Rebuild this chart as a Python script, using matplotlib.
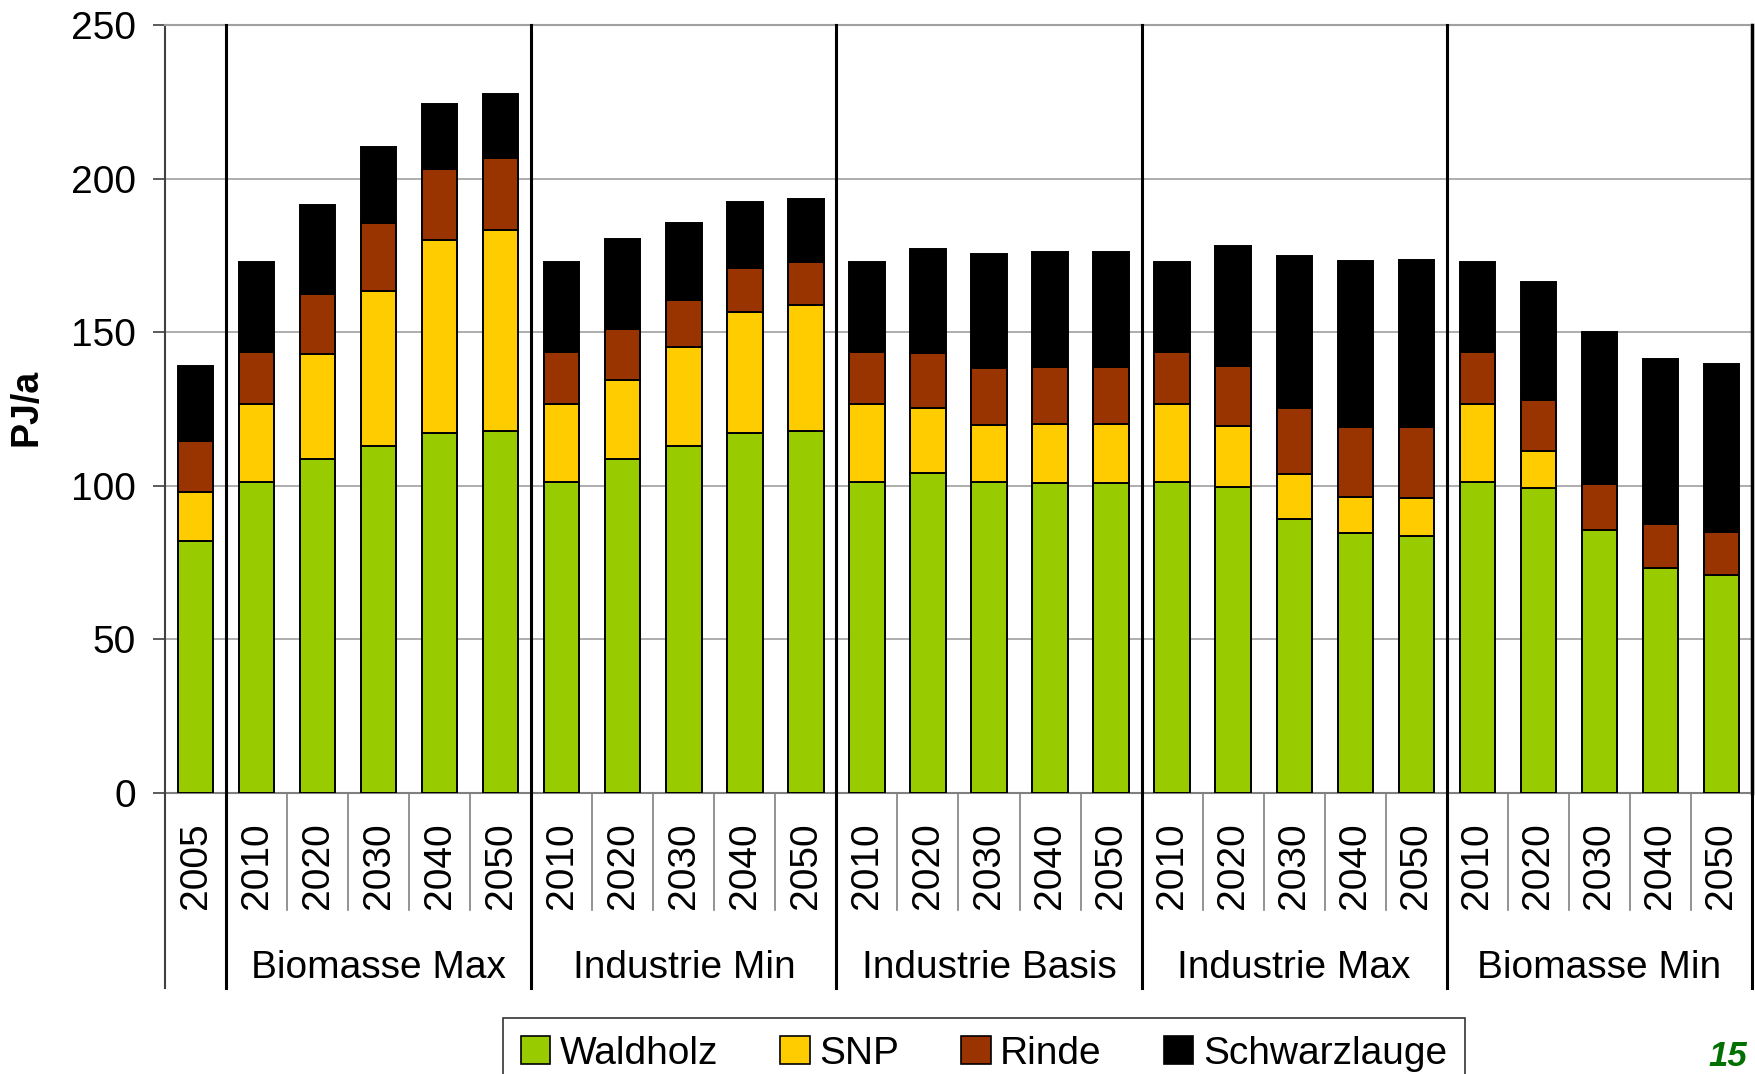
import matplotlib
matplotlib.use("Agg")
import matplotlib.pyplot as plt
from matplotlib.patches import Patch
import matplotlib.transforms as mtransforms
import numpy as np

plt.rcParams['font.family'] = ['Liberation Sans', 'DejaVu Sans']

years = ["2005",
         "2010", "2020", "2030", "2040", "2050",
         "2010", "2020", "2030", "2040", "2050",
         "2010", "2020", "2030", "2040", "2050",
         "2010", "2020", "2030", "2040", "2050",
         "2010", "2020", "2030", "2040", "2050"]
groups = ["Biomasse Max", "Industrie Min", "Industrie Basis", "Industrie Max", "Biomasse Min"]
series_names = ["Waldholz", "SNP", "Rinde", "Schwarzlauge"]

waldholz = [82.0,
            101.2, 108.7, 112.9, 117.2, 117.7,
            101.2, 108.7, 112.8, 117.1, 117.7,
            101.2, 104.1, 101.1, 100.9, 100.9,
            101.2, 99.6, 89.2, 84.5, 83.7,
            101.2, 99.4, 85.5, 73.1, 71.0]
snp = [15.9,
       25.4, 34.2, 50.6, 62.9, 65.7,
       25.4, 25.8, 32.5, 39.5, 41.0,
       25.4, 21.2, 18.8, 19.3, 19.3,
       25.4, 20.0, 14.6, 12.0, 12.2,
       25.4, 11.8, 0.0, 0.0, 0.0]
rinde = [16.8,
         17.1, 19.5, 21.9, 23.0, 23.4,
         17.1, 16.4, 15.2, 14.4, 14.0,
         17.1, 17.9, 18.4, 18.6, 18.6,
         17.1, 19.5, 21.6, 22.8, 23.3,
         17.1, 16.6, 15.1, 14.4, 14.1]
schwarzlauge = [24.4,
                29.3, 29.1, 25.0, 21.2, 20.8,
                29.3, 29.5, 25.2, 21.3, 20.7,
                29.3, 33.9, 37.3, 37.4, 37.4,
                29.3, 38.9, 49.4, 54.0, 54.4,
                29.3, 38.7, 49.4, 53.7, 54.4]

colors = ["#99CC00", "#FFCC00", "#993300", "#000000"]

fig = plt.figure(figsize=(17.56, 10.74), dpi=100)
ax = fig.add_axes([165/1756, 1-793/1074, (1752-165)/1756, (793-25)/1074])

x = np.arange(len(years))
bottom = np.zeros(len(years))
for vals, c, name in zip([waldholz, snp, rinde, schwarzlauge], colors, series_names):
    v = np.array(vals)
    ax.bar(x, v, bottom=bottom, width=0.58, color=c, edgecolor="black",
           linewidth=1.4, label=name, zorder=3)
    bottom += v

ax.set_xlim(-0.5, len(years) - 0.5)
ax.set_ylim(0, 250)
ax.set_yticks([0, 50, 100, 150, 200, 250])
ax.tick_params(axis='y', labelsize=28, length=9, width=1.2, color="#404040", pad=12)
ax.set_xticks(x)
ax.set_xticklabels(years, rotation=90, fontsize=28)
ax.tick_params(axis='x', length=0, pad=21)
ax.yaxis.grid(True, color="#a0a0a0", linewidth=1.2, zorder=0)
ax.set_axisbelow(True)

ax.spines['top'].set_color("#a0a0a0")
ax.spines['top'].set_linewidth(1.5)
ax.spines['left'].set_color("#404040")
ax.spines['left'].set_linewidth(1.5)
ax.spines['bottom'].set_color("#808080")
ax.spines['bottom'].set_linewidth(1.5)
ax.spines['right'].set_color("black")
ax.spines['right'].set_linewidth(2.5)

trans = mtransforms.blended_transform_factory(ax.transData, ax.transAxes)
group_bounds = [0.5, 5.5, 10.5, 15.5, 20.5, 25.5]
sep_bottom = (793 - 988) / 768
tick_bottom = (793 - 910) / 768
ax.plot([-0.5, -0.5], [0, sep_bottom], transform=trans, color="#404040", lw=1.5, clip_on=False, zorder=4)
for b in group_bounds:
    ax.plot([b, b], [1, sep_bottom], transform=trans, color="black", lw=2.2, clip_on=False, zorder=4)
for i in range(len(years) - 1):
    b = i + 0.5
    if b not in group_bounds:
        ax.plot([b, b], [0, tick_bottom], transform=trans, color="#808080", lw=1.2, clip_on=False, zorder=4)

for gi, g in enumerate(groups):
    cx = 1 + gi * 5 + 2
    ax.text(cx, (793 - 968) / 768, g, transform=trans, ha='center', va='center', fontsize=28)

fig.text(27/1756, 1 - 407/1074, "PJ/a", rotation=90, ha='center', va='center',
         fontsize=27, fontweight='bold')

handles = [Patch(facecolor=c, edgecolor="black", linewidth=1.2) for c in colors]
leg = fig.legend(handles, series_names, loc='upper center', ncol=4,
                 bbox_to_anchor=(984/1756, 1 - 1018/1074), fontsize=28,
                 frameon=True, fancybox=False, edgecolor="black",
                 handlelength=0.75, handleheight=0.75, handletextpad=0.25,
                 columnspacing=1.6, borderpad=0.45, borderaxespad=0.0)
leg.get_frame().set_linewidth(1.2)

fig.text(1747/1756, 1 - 1056/1074, "15", ha='right', va='center', fontsize=25,
         fontweight='bold', fontstyle='italic', color="#007000")

fig.savefig("out.png", dpi=100)
